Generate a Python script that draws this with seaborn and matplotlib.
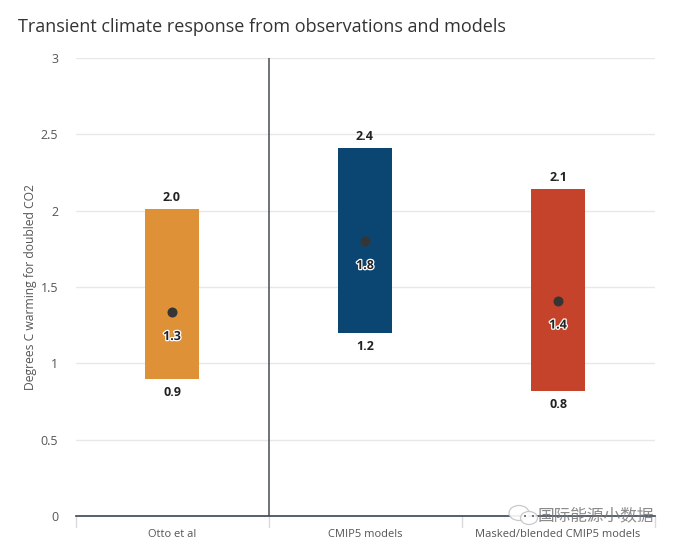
import matplotlib
matplotlib.use("Agg")
import matplotlib.pyplot as plt
import matplotlib.patheffects as pe
from matplotlib.patches import Ellipse
import pandas as pd
import seaborn as sns

categories = ["Otto et al", "CMIP5 models", "Masked/blended CMIP5 models"]
range_low = [0.90, 1.20, 0.82]
range_high = [2.01, 2.41, 2.14]
best_estimate = [1.335, 1.80, 1.41]
bar_colors = ["#DF9138", "#0B4572", "#C5432A"]
y_ticks = [0, 0.5, 1, 1.5, 2, 2.5, 3]
y_tick_labels = ["0", "0.5", "1", "1.5", "2", "2.5", "3"]

sns.set_theme(style="white")
plt.rcParams["font.family"] = ["Open Sans", "Noto Sans CJK SC", "DejaVu Sans"]

W, H = 700, 559
fig = plt.figure(figsize=(W / 100, H / 100), dpi=100)
ax = fig.add_axes([75.5 / W, 1 - 516 / H, (655 - 76) / W, (516 - 58) / H])

df = pd.DataFrame({
    "category": categories,
    "low": range_low,
    "high": range_high,
    "mid": best_estimate,
})
df["span"] = df["high"] - df["low"]

# each range is a floating bar, so every category gets its own baseline
for i, row in df.iterrows():
    sns.barplot(data=df[df["category"] == row["category"]], x="category", y="span",
                order=categories, color=bar_colors[i], bottom=row["low"], width=0.28,
                saturation=1, linewidth=0, ax=ax, zorder=3)
sns.scatterplot(data=df, x="category", y="mid", color="#353535", s=52,
                linewidth=0, ax=ax, zorder=4, legend=False)

ax.set_xlim(-0.5, 2.5)
ax.set_ylim(0, 3)
ax.set_xlabel("")
ax.set_ylabel("Degrees C warming for doubled CO2", fontsize=8.7, color="#555555")
ax.yaxis.set_label_coords((38 - 76) / (655 - 76), 0.5)

ax.set_yticks(y_ticks)
ax.set_yticklabels(y_tick_labels, fontsize=9, color="#555555")
ax.tick_params(axis="y", length=0, pad=12.5)
ax.set_xticks(range(3))
ax.set_xticklabels(categories, fontsize=8, color="#555555")
ax.tick_params(axis="x", length=0, pad=9.5)

ax.grid(axis="y", color="#E8E8E8", linewidth=1, zorder=0)
ax.set_axisbelow(True)
sns.despine(ax=ax, left=True, right=True, top=True, bottom=False)
ax.spines["bottom"].set_color("#3A4654")
ax.spines["bottom"].set_linewidth(1.2)
ax.spines["bottom"].set_zorder(6)

# divider between the observational estimate and the model groups
ax.axvline(0.5, color="#555B63", linewidth=1.2, zorder=2)

# category separators below the baseline
for boundary in [-0.5, 0.5, 1.5, 2.5]:
    ax.plot([boundary, boundary], [0, -11 / 152.67], color="#DADADA", linewidth=1,
            clip_on=False, zorder=1)

for i, row in df.iterrows():
    ax.annotate(f"{row['high']:.1f}", (i, row["high"]), xytext=(0, 8.4), textcoords="offset points",
                ha="center", va="center", fontsize=9, fontweight="bold", color="#222222")
    ax.annotate(f"{row['low']:.1f}", (i, row["low"]), xytext=(0, -10), textcoords="offset points",
                ha="center", va="center", fontsize=9, fontweight="bold", color="#222222")
    ax.annotate(f"{row['mid']:.1f}", (i, row["mid"]), xytext=(0, -17.5), textcoords="offset points",
                ha="center", va="center", fontsize=9, fontweight="bold", color="#222222", zorder=5,
                path_effects=[pe.withStroke(linewidth=1.8, foreground="white")])

fig.text(18 / W, 1 - 27 / H, "Transient climate response from observations and models",
         fontsize=13, color="#333333", ha="left", va="center")

# channel mark and name in the lower right corner
for cx, cy, w, h in [(519, 513, 20, 15), (529, 518, 17, 13)]:
    fig.add_artist(Ellipse((cx / W, 1 - cy / H), w / W, h / H, transform=fig.transFigure,
                           facecolor="white", edgecolor="#C4C4C4", linewidth=0.9, alpha=0.9))
for cx, cy in [(525, 516), (533, 516)]:
    fig.add_artist(Ellipse((cx / W, 1 - cy / H), 2 / W, 2 / H, transform=fig.transFigure,
                           facecolor="#555555", edgecolor="none"))
fig.text(596 / W, 1 - 516 / H, "国际能源小数据", fontsize=12, color="#777777",
         ha="center", va="center", alpha=0.85)

fig.savefig("out.png", dpi=100)
